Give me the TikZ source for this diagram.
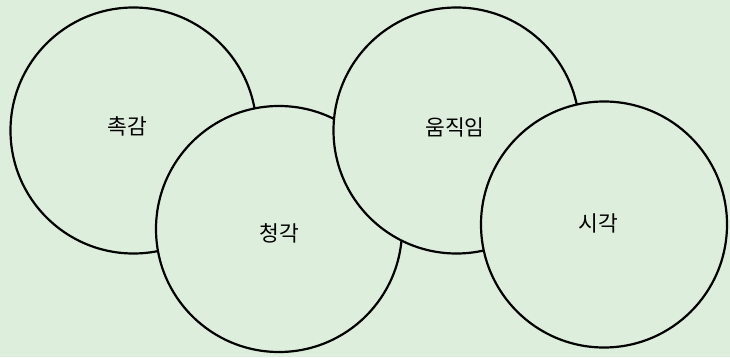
\documentclass[tikz,border=0pt]{standalone}
\usepackage{fontspec}
\newfontfamily\kr{Noto Sans CJK KR}
\definecolor{bgc}{RGB}{222,238,220}
\begin{document}
\begin{tikzpicture}[x=1pt,y=1pt,
  blob/.style={circle,draw=black,line width=2.2pt,fill=bgc,minimum size=246pt,inner sep=0pt},
  lbl/.style={font=\kr\fontsize{21.5}{24}\selectfont,text=black,inner sep=0pt}]
\fill[bgc] (0,0) rectangle (730,357);
\useasboundingbox (0,0) rectangle (730,357);
\node[blob] (c1) at (133.5,226.5) {};
\node[blob] (c2) at (279,128) {};
\node[blob] (c3) at (456.5,226.5) {};
\node[blob] (c4) at (604,132.5) {};
\node[lbl] (t1) at (127,231) {촉감};
\node[lbl] (t2) at (279,124) {청각};
\node[lbl] (t3) at (455,230) {움직임};
\node[lbl] (t4) at (598,134) {시각};
\end{tikzpicture}
\end{document}
